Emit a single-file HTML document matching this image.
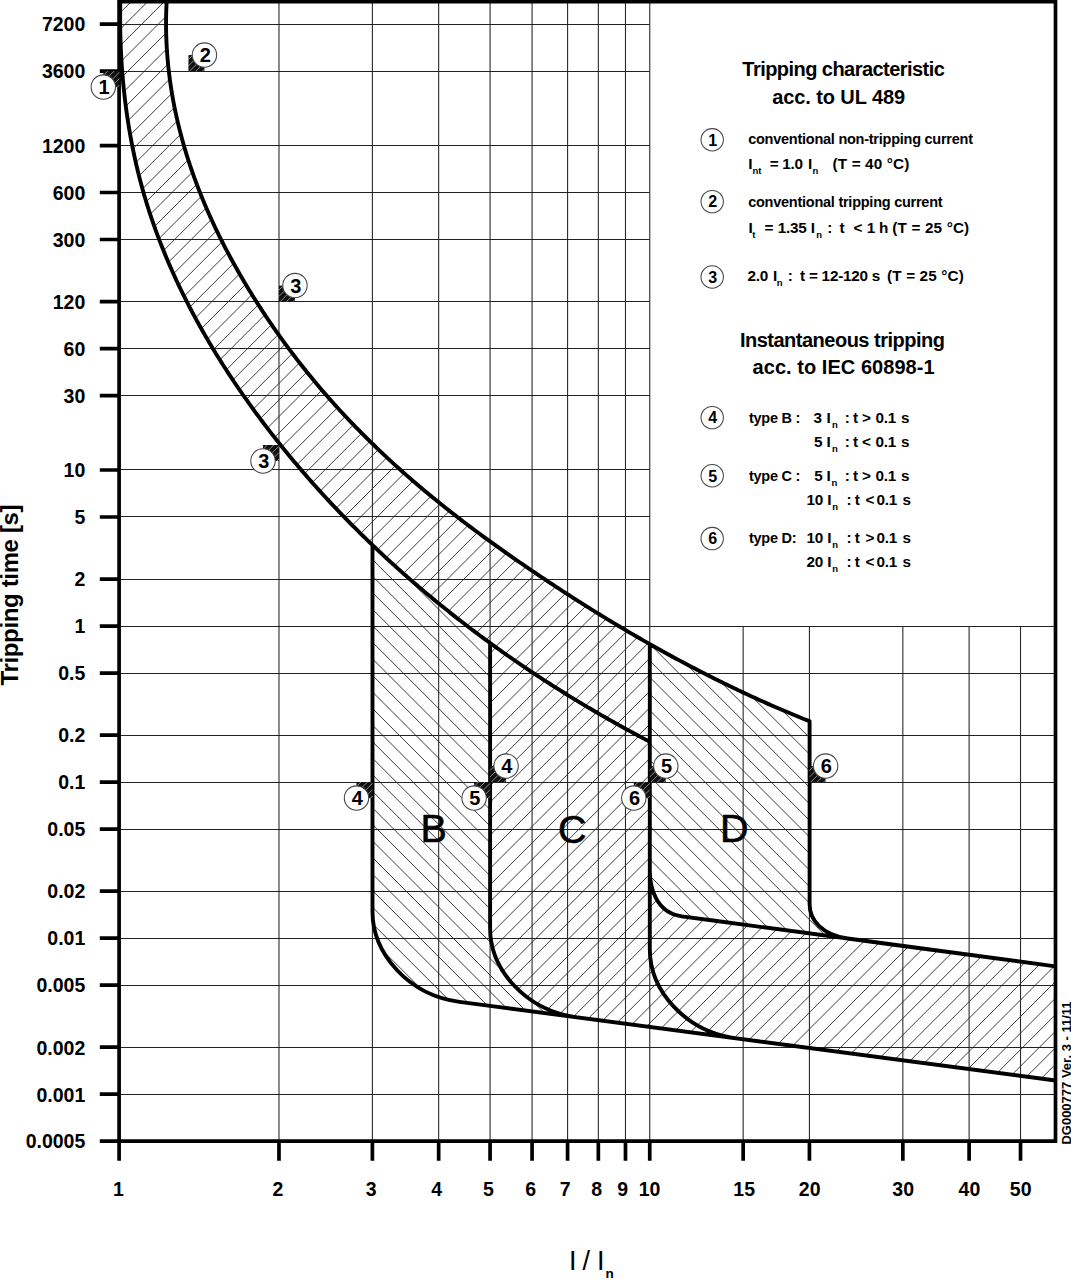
<!DOCTYPE html><html><head><meta charset="utf-8"><title>Tripping characteristic</title><style>html,body{margin:0;padding:0;background:#fff;}svg{display:block;}</style></head><body><svg width="1071" height="1280" viewBox="0 0 1071 1280">
<defs>
<clipPath id="cT"><path d="M117.3,-10L167.16,-6.29L166.97,-3.65L166.8,-1.02L166.65,1.61L166.51,4.23L166.4,6.86L166.3,9.48L166.22,12.1L166.15,14.72L166.1,17.33L166.07,19.95L166.06,22.56L166.06,25.17L166.08,27.78L166.11,30.38L166.17,32.98L166.23,35.58L166.32,38.18L166.42,40.77L166.54,43.37L166.67,45.96L166.82,48.54L166.99,51.13L167.17,53.71L167.37,56.29L167.58,58.87L167.81,61.44L168.05,64.01L168.31,66.58L168.59,69.15L168.88,71.71L169.19,74.27L169.51,76.83L169.85,79.39L170.2,81.94L170.56,84.49L170.95,87.03L171.34,89.58L171.75,92.12L172.18,94.66L172.62,97.19L173.07,99.72L173.54,102.25L174.03,104.77L174.52,107.3L175.04,109.82L175.56,112.33L176.1,114.84L176.66,117.35L177.22,119.86L177.8,122.36L178.4,124.86L179.01,127.36L179.63,129.85L180.27,132.34L180.92,134.82L181.58,137.31L182.25,139.78L182.94,142.26L183.65,144.73L184.36,147.2L185.09,149.66L185.83,152.13L186.58,154.58L187.35,157.04L188.13,159.49L188.92,161.93L189.72,164.38L190.54,166.81L191.37,169.25L192.21,171.68L193.06,174.11L193.92,176.53L194.8,178.95L195.69,181.37L196.59,183.78L197.5,186.19L198.42,188.59L199.36,190.99L200.31,193.38L201.26,195.78L202.23,198.16L203.21,200.55L204.2,202.93L205.21,205.3L206.22,207.67L207.24,210.04L208.28,212.4L209.33,214.76L210.38,217.11L211.45,219.46L212.53,221.81L213.61,224.15L214.71,226.48L215.82,228.82L216.94,231.15L218.07,233.47L219.2,235.79L220.35,238.1L221.51,240.41L222.67,242.72L223.85,245.02L225.04,247.32L226.23,249.61L227.43,251.9L228.65,254.19L229.87,256.47L231.1,258.74L232.34,261.02L233.59,263.28L234.84,265.55L236.11,267.8L237.38,270.06L238.66,272.31L239.95,274.55L241.25,276.79L242.56,279.03L243.87,281.26L245.2,283.48L246.53,285.71L247.86,287.92L249.21,290.14L250.56,292.34L251.92,294.55L253.29,296.75L254.67,298.94L256.05,301.13L257.44,303.31L258.84,305.49L260.24,307.67L261.65,309.84L263.07,312L264.5,314.16L265.94,316.32L267.38,318.47L268.83,320.61L270.28,322.76L271.75,324.89L273.22,327.02L274.7,329.15L276.18,331.27L277.67,333.38L279.17,335.49L280.68,337.6L282.19,339.7L283.71,341.79L285.24,343.88L286.77,345.96L288.31,348.04L289.86,350.11L291.42,352.18L292.98,354.24L294.54,356.3L296.12,358.35L297.7,360.4L299.29,362.44L300.88,364.47L302.48,366.5L304.09,368.53L305.71,370.54L307.33,372.56L308.95,374.56L310.59,376.56L312.23,378.56L313.87,380.55L315.53,382.53L317.18,384.51L318.85,386.48L320.52,388.45L322.2,390.41L323.88,392.36L325.57,394.31L327.27,396.25L328.97,398.19L330.68,400.12L332.4,402.05L334.12,403.97L335.84,405.88L337.58,407.78L339.31,409.69L341.06,411.58L342.81,413.47L344.56,415.35L346.33,417.23L348.09,419.1L349.87,420.97L351.65,422.83L353.43,424.69L355.22,426.54L357.02,428.38L358.82,430.22L360.62,432.05L362.44,433.88L364.25,435.7L366.08,437.51L367.91,439.32L369.74,441.13L371.58,442.93L373.42,444.72L375.27,446.51L377.13,448.29L378.99,450.07L380.86,451.84L382.73,453.61L384.6,455.37L386.48,457.13L388.37,458.88L390.26,460.62L392.15,462.36L394.05,464.1L395.96,465.83L397.87,467.55L399.79,469.27L401.71,470.99L403.63,472.69L405.56,474.4L407.49,476.1L409.43,477.79L411.38,479.48L413.32,481.16L415.28,482.84L417.23,484.51L419.2,486.18L421.16,487.85L423.13,489.51L425.11,491.16L427.09,492.81L429.07,494.45L431.06,496.09L433.05,497.72L435.05,499.35L437.05,500.98L439.05,502.6L441.06,504.21L443.08,505.82L445.09,507.43L447.11,509.03L449.14,510.63L451.17,512.22L453.2,513.81L455.24,515.39L457.28,516.97L459.32,518.54L461.37,520.11L463.42,521.68L465.48,523.24L467.53,524.8L469.6,526.35L471.66,527.9L473.73,529.44L475.8,530.98L477.88,532.52L479.95,534.05L482.04,535.58L484.12,537.11L486.21,538.63L488.3,540.15L490.39,541.66L492.49,543.18L494.58,544.68L496.69,546.19L498.79,547.69L500.9,549.18L503.01,550.68L505.12,552.17L507.23,553.65L509.35,555.14L511.47,556.62L513.59,558.09L515.72,559.57L517.84,561.04L519.97,562.51L522.1,563.97L524.23,565.43L526.37,566.89L528.51,568.35L530.65,569.8L532.79,571.25L534.93,572.7L537.07,574.15L539.22,575.59L541.37,577.03L543.52,578.46L545.67,579.9L547.82,581.33L549.98,582.76L552.14,584.18L554.3,585.6L556.46,587.02L558.62,588.44L560.79,589.85L562.95,591.26L565.12,592.67L567.29,594.08L569.47,595.48L571.64,596.87L573.82,598.27L576,599.66L578.18,601.05L580.36,602.44L582.55,603.82L584.73,605.2L586.92,606.57L589.11,607.94L591.3,609.31L593.5,610.68L595.7,612.04L597.89,613.4L600.09,614.76L602.3,616.11L604.5,617.46L606.71,618.8L608.92,620.14L611.13,621.48L613.34,622.82L615.55,624.15L617.77,625.48L619.99,626.8L622.21,628.12L624.43,629.44L626.66,630.75L628.88,632.06L631.11,633.37L633.34,634.67L635.58,635.97L637.81,637.26L640.05,638.55L642.29,639.84L644.53,641.12L646.77,642.4L649.02,643.68L649.8,643.68L649.8,741.35L649.03,741.35L646.9,740.24L644.77,739.11L642.64,737.99L640.52,736.86L638.39,735.73L636.27,734.59L634.15,733.45L632.03,732.3L629.91,731.15L627.8,730L625.68,728.84L623.57,727.68L621.46,726.52L619.35,725.35L617.25,724.17L615.14,723L613.04,721.81L610.94,720.63L608.84,719.44L606.74,718.25L604.65,717.05L602.55,715.85L600.46,714.64L598.37,713.43L596.29,712.22L594.2,711L592.12,709.78L590.04,708.55L587.96,707.32L585.88,706.09L583.81,704.85L581.74,703.61L579.66,702.37L577.6,701.12L575.53,699.86L573.47,698.6L571.4,697.34L569.34,696.08L567.29,694.81L565.23,693.53L563.18,692.26L561.13,690.97L559.08,689.69L557.03,688.4L554.99,687.11L552.95,685.81L550.91,684.51L548.87,683.2L546.84,681.89L544.8,680.58L542.77,679.26L540.75,677.94L538.72,676.61L536.7,675.28L534.68,673.95L532.66,672.61L530.65,671.27L528.63,669.93L526.62,668.58L524.62,667.22L522.61,665.86L520.61,664.5L518.61,663.14L516.61,661.77L514.62,660.39L512.62,659.02L510.64,657.64L508.65,656.25L506.66,654.86L504.68,653.47L502.7,652.07L500.73,650.67L498.75,649.26L496.78,647.86L494.82,646.44L492.85,645.03L490.89,643.6L488.93,642.18L486.97,640.75L485.02,639.32L483.07,637.88L481.12,636.44L479.17,634.99L477.23,633.55L475.29,632.09L473.36,630.64L471.42,629.18L469.49,627.71L467.56,626.24L465.64,624.77L463.72,623.29L461.8,621.81L459.88,620.33L457.97,618.84L456.06,617.35L454.16,615.85L452.25,614.35L450.35,612.85L448.45,611.34L446.56,609.83L444.67,608.31L442.78,606.79L440.9,605.27L439.02,603.74L437.14,602.21L435.26,600.67L433.39,599.13L431.52,597.59L429.66,596.04L427.8,594.49L425.94,592.93L424.08,591.37L422.23,589.81L420.38,588.24L418.54,586.67L416.7,585.1L414.86,583.52L413.02,581.93L411.19,580.35L409.36,578.76L407.54,577.16L405.72,575.56L403.9,573.96L402.09,572.35L400.28,570.74L398.47,569.13L396.67,567.51L394.87,565.89L393.07,564.26L391.28,562.63L389.49,561L387.7,559.36L385.92,557.72L384.14,556.07L382.37,554.42L380.6,552.77L378.83,551.11L377.07,549.45L375.31,547.78L373.55,546.11L371.8,544.44L370.05,542.76L368.31,541.08L366.57,539.4L364.83,537.71L363.1,536.01L361.37,534.32L359.64,532.62L357.92,530.91L356.2,529.2L354.49,527.49L352.78,525.78L351.07,524.06L349.37,522.33L347.67,520.6L345.98,518.87L344.29,517.14L342.6,515.4L340.92,513.65L339.24,511.9L337.57,510.15L335.9,508.4L334.24,506.64L332.57,504.88L330.92,503.11L329.26,501.34L327.61,499.56L325.97,497.78L324.33,496L322.69,494.22L321.06,492.43L319.43,490.63L317.81,488.83L316.19,487.03L314.57,485.23L312.96,483.42L311.36,481.6L309.76,479.78L308.16,477.96L306.56,476.14L304.97,474.31L303.39,472.48L301.81,470.64L300.23,468.8L298.66,466.95L297.1,465.11L295.53,463.25L293.97,461.4L292.42,459.54L290.87,457.67L289.33,455.8L287.79,453.93L286.25,452.06L284.72,450.18L283.19,448.29L281.67,446.41L280.16,444.52L278.64,442.62L277.14,440.72L275.63,438.82L274.13,436.91L272.64,435L271.15,433.09L269.67,431.17L268.19,429.25L266.71,427.32L265.24,425.39L263.78,423.46L262.32,421.52L260.86,419.58L259.41,417.64L257.96,415.69L256.52,413.73L255.09,411.78L253.66,409.82L252.23,407.85L250.81,405.88L249.39,403.91L247.98,401.94L246.58,399.96L245.18,397.97L243.78,395.99L242.39,393.99L241.01,392L239.63,390L238.26,388L236.89,385.99L235.53,383.98L234.17,381.97L232.82,379.95L231.48,377.93L230.14,375.91L228.81,373.88L227.48,371.85L226.16,369.81L224.84,367.77L223.54,365.73L222.23,363.68L220.94,361.63L219.65,359.57L218.36,357.52L217.09,355.45L215.81,353.39L214.55,351.32L213.29,349.25L212.04,347.17L210.8,345.09L209.56,343.01L208.33,340.92L207.1,338.83L205.88,336.73L204.67,334.64L203.47,332.53L202.27,330.43L201.08,328.32L199.9,326.21L198.72,324.09L197.55,321.97L196.39,319.85L195.23,317.72L194.09,315.59L192.95,313.46L191.81,311.32L190.69,309.18L189.57,307.03L188.46,304.89L187.36,302.73L186.26,300.58L185.17,298.42L184.09,296.26L183.02,294.09L181.96,291.92L180.9,289.75L179.85,287.57L178.81,285.39L177.78,283.21L176.76,281.02L175.74,278.83L174.73,276.64L173.73,274.44L172.74,272.24L171.76,270.04L170.78,267.83L169.82,265.62L168.86,263.41L167.91,261.19L166.97,258.97L166.04,256.74L165.12,254.52L164.2,252.28L163.3,250.05L162.4,247.81L161.51,245.57L160.63,243.33L159.76,241.08L158.9,238.83L158.05,236.57L157.21,234.31L156.37,232.05L155.55,229.79L154.73,227.52L153.93,225.25L153.13,222.97L152.34,220.7L151.56,218.41L150.8,216.13L150.04,213.84L149.29,211.55L148.55,209.26L147.82,206.96L147.1,204.66L146.39,202.35L145.69,200.05L145,197.74L144.32,195.42L143.65,193.1L142.99,190.78L142.34,188.46L141.7,186.13L141.07,183.8L140.45,181.47L139.84,179.14L139.24,176.8L138.65,174.45L138.07,172.11L137.5,169.76L136.94,167.41L136.39,165.06L135.85,162.7L135.32,160.34L134.79,157.98L134.28,155.62L133.78,153.25L133.29,150.88L132.8,148.51L132.33,146.14L131.87,143.76L131.41,141.39L130.97,139.01L130.53,136.62L130.1,134.24L129.69,131.85L129.28,129.46L128.88,127.07L128.49,124.68L128.11,122.28L127.74,119.89L127.38,117.49L127.03,115.09L126.69,112.68L126.35,110.28L126.03,107.87L125.71,105.47L125.41,103.06L125.11,100.65L124.82,98.24L124.54,95.82L124.27,93.41L124.01,90.99L123.75,88.57L123.51,86.15L123.28,83.73L123.05,81.31L122.83,78.89L122.62,76.47L122.42,74.04L122.23,71.62L122.05,69.19L121.87,66.76L121.71,64.33L121.55,61.9L121.4,59.47L121.26,57.04L121.13,54.61L121,52.18L120.89,49.75L120.78,47.31L120.68,44.88L120.59,42.44L120.51,40.01L120.44,37.57L120.37,35.14L120.31,32.7L120.26,30.27L120.22,27.83L120.19,25.39L120.17,22.96L120.15,20.52L120.14,18.08L120.14,15.65L120.15,13.21L120.16,10.77L120.19,8.34L120.22,5.9L120.26,3.46L120.3,1.03L120.36,-1.41L120.42,-3.84L120.49,-6.28L117.3,-10Z"/></clipPath>
<clipPath id="cB"><path d="M372.5,544.44L372.5,911.75L372.53,913.85L372.62,915.95L372.77,918.05L372.98,920.15L373.25,922.25L373.58,924.34L373.96,926.42L374.41,928.5L374.91,930.58L375.46,932.64L376.07,934.7L376.74,936.74L377.46,938.77L378.23,940.8L379.06,942.8L379.93,944.79L380.87,946.77L381.85,948.73L382.88,950.67L383.97,952.6L385.1,954.5L386.28,956.39L387.51,958.25L388.79,960.08L390.12,961.9L391.49,963.69L392.91,965.45L394.38,967.19L395.89,968.9L397.45,970.57L399.05,972.22L400.69,973.84L402.37,975.42L404.1,976.97L405.87,978.49L407.69,979.97L409.54,981.42L411.43,982.82L413.36,984.19L415.33,985.52L417.34,986.81L419.39,988.05L421.47,989.26L423.6,990.42L425.75,991.53L427.95,992.6L430.17,993.62L432.44,994.59L434.73,995.52L437.06,996.39L439.42,997.22L441.82,997.99L444.24,998.7L446.7,999.37L449.19,999.97L451.7,1000.52L454.25,1001.02L456.83,1001.45L459.43,1001.83L490,1005.86L605,1021.03L605,1021.03L577.4,1017.39L574.75,1017.01L572.13,1016.57L569.55,1016.07L566.99,1015.52L564.47,1014.91L561.98,1014.25L559.52,1013.53L557.1,1012.76L554.71,1011.94L552.35,1011.07L550.03,1010.15L547.75,1009.18L545.5,1008.17L543.29,1007.11L541.12,1006L538.98,1004.85L536.89,1003.66L534.83,1002.42L532.81,1001.14L530.83,999.83L528.89,998.47L526.99,997.08L525.13,995.65L523.32,994.18L521.55,992.68L519.82,991.14L518.13,989.57L516.49,987.97L514.89,986.34L513.33,984.68L511.83,982.99L510.36,981.27L508.95,979.53L507.58,977.76L506.26,975.97L504.98,974.15L503.76,972.31L502.58,970.44L501.46,968.56L500.38,966.66L499.35,964.74L498.38,962.8L497.46,960.84L496.58,958.87L495.76,956.89L495,954.89L494.29,952.88L493.63,950.85L493.02,948.82L492.48,946.78L491.98,944.73L491.55,942.67L491.16,940.61L490.84,938.54L490.58,936.47L490.37,934.39L490.22,932.31L490.13,930.23L490.1,928.15L490.1,643.6L488.93,642.18L486.97,640.75L485.02,639.32L483.07,637.88L481.12,636.44L479.17,634.99L477.23,633.55L475.29,632.09L473.36,630.64L471.42,629.18L469.49,627.71L467.56,626.24L465.64,624.77L463.72,623.29L461.8,621.81L459.88,620.33L457.97,618.84L456.06,617.35L454.16,615.85L452.25,614.35L450.35,612.85L448.45,611.34L446.56,609.83L444.67,608.31L442.78,606.79L440.9,605.27L439.02,603.74L437.14,602.21L435.26,600.67L433.39,599.13L431.52,597.59L429.66,596.04L427.8,594.49L425.94,592.93L424.08,591.37L422.23,589.81L420.38,588.24L418.54,586.67L416.7,585.1L414.86,583.52L413.02,581.93L411.19,580.35L409.36,578.76L407.54,577.16L405.72,575.56L403.9,573.96L402.09,572.35L400.28,570.74L398.47,569.13L396.67,567.51L394.87,565.89L393.07,564.26L391.28,562.63L389.49,561L387.7,559.36L385.92,557.72L384.14,556.07L382.37,554.42L380.6,552.77L378.83,551.11L377.07,549.45L375.31,547.78L373.55,546.11Z"/></clipPath>
<clipPath id="cC"><path d="M490.1,643.6L490.1,928.15L490.13,930.23L490.22,932.31L490.37,934.39L490.58,936.47L490.84,938.54L491.16,940.61L491.55,942.67L491.98,944.73L492.48,946.78L493.02,948.82L493.63,950.85L494.29,952.88L495,954.89L495.76,956.89L496.58,958.87L497.46,960.84L498.38,962.8L499.35,964.74L500.38,966.66L501.46,968.56L502.58,970.44L503.76,972.31L504.98,974.15L506.26,975.97L507.58,977.76L508.95,979.53L510.36,981.27L511.83,982.99L513.33,984.68L514.89,986.34L516.49,987.97L518.13,989.57L519.82,991.14L521.55,992.68L523.32,994.18L525.13,995.65L526.99,997.08L528.89,998.47L530.83,999.83L532.81,1001.14L534.83,1002.42L536.89,1003.66L538.98,1004.85L541.12,1006L543.29,1007.11L545.5,1008.17L547.75,1009.18L550.03,1010.15L552.35,1011.07L554.71,1011.94L557.1,1012.76L559.52,1013.53L561.98,1014.25L564.47,1014.91L566.99,1015.52L569.55,1016.07L572.13,1016.57L574.75,1017.01L577.4,1017.39L605,1021.03L1058.5,1080.85L1058.5,966.76L715,920.8L715,920.8L681.55,916.33L680.24,916.13L678.96,915.89L677.71,915.62L676.5,915.31L675.33,914.96L674.18,914.57L673.08,914.16L672,913.71L670.95,913.23L669.94,912.71L668.96,912.17L668,911.6L667.08,911L666.19,910.37L665.33,909.72L664.5,909.04L663.69,908.34L662.91,907.62L662.16,906.87L661.44,906.1L660.75,905.31L660.08,904.51L659.43,903.68L658.82,902.84L658.22,901.98L657.66,901.11L657.11,900.22L656.59,899.32L656.1,898.41L655.62,897.49L655.17,896.56L654.74,895.61L654.33,894.66L653.94,893.71L653.58,892.74L653.23,891.78L652.9,890.8L652.59,889.83L652.3,888.85L652.03,887.87L651.78,886.9L651.55,885.92L651.33,884.94L651.13,883.97L650.94,883L650.77,882.04L650.62,881.08L650.48,880.13L650.35,879.19L650.24,878.25L650.14,877.33L650.06,876.42L649.99,875.52L649.93,874.63L649.88,873.76L649.85,872.9L649.82,872.05L649.8,871.23L649.8,870.42L649.8,741.35L649.03,741.35L646.9,740.24L644.77,739.11L642.64,737.99L640.52,736.86L638.39,735.73L636.27,734.59L634.15,733.45L632.03,732.3L629.91,731.15L627.8,730L625.68,728.84L623.57,727.68L621.46,726.52L619.35,725.35L617.25,724.17L615.14,723L613.04,721.81L610.94,720.63L608.84,719.44L606.74,718.25L604.65,717.05L602.55,715.85L600.46,714.64L598.37,713.43L596.29,712.22L594.2,711L592.12,709.78L590.04,708.55L587.96,707.32L585.88,706.09L583.81,704.85L581.74,703.61L579.66,702.37L577.6,701.12L575.53,699.86L573.47,698.6L571.4,697.34L569.34,696.08L567.29,694.81L565.23,693.53L563.18,692.26L561.13,690.97L559.08,689.69L557.03,688.4L554.99,687.11L552.95,685.81L550.91,684.51L548.87,683.2L546.84,681.89L544.8,680.58L542.77,679.26L540.75,677.94L538.72,676.61L536.7,675.28L534.68,673.95L532.66,672.61L530.65,671.27L528.63,669.93L526.62,668.58L524.62,667.22L522.61,665.86L520.61,664.5L518.61,663.14L516.61,661.77L514.62,660.39L512.62,659.02L510.64,657.64L508.65,656.25L506.66,654.86L504.68,653.47L502.7,652.07L500.73,650.67L498.75,649.26L496.78,647.86L494.82,646.44L492.85,645.03L490.89,643.6Z"/></clipPath>
<clipPath id="cD"><path d="M649.8,643.68L651.26,644.95L653.51,646.22L655.77,647.48L658.02,648.74L660.28,650L662.53,651.25L664.79,652.5L667.05,653.74L669.32,654.98L671.59,656.22L673.85,657.45L676.12,658.68L678.4,659.9L680.67,661.12L682.95,662.33L685.23,663.55L687.51,664.75L689.79,665.95L692.08,667.15L694.37,668.35L696.66,669.54L698.95,670.72L701.24,671.9L703.54,673.08L705.84,674.25L708.14,675.42L710.44,676.58L712.75,677.74L715.05,678.89L717.36,680.04L719.67,681.19L721.99,682.33L724.3,683.46L726.62,684.6L728.94,685.72L731.27,686.84L733.59,687.96L735.92,689.07L738.25,690.18L740.58,691.29L742.91,692.38L745.25,693.48L747.59,694.57L749.93,695.65L752.27,696.73L754.62,697.8L756.97,698.87L759.32,699.94L761.67,701L764.02,702.05L766.38,703.1L768.74,704.15L771.1,705.19L773.46,706.22L775.83,707.25L778.2,708.28L780.57,709.3L782.94,710.31L785.32,711.32L787.69,712.32L790.07,713.32L792.45,714.32L794.84,715.3L797.23,716.29L799.61,717.27L802.01,718.24L804.4,719.21L806.8,720.17L809.19,721.12L809.6,721.12L809.6,904.25L809.61,905.04L809.64,905.83L809.7,906.62L809.77,907.41L809.87,908.2L809.98,908.98L810.12,909.76L810.28,910.54L810.47,911.32L810.67,912.09L810.9,912.85L811.14,913.62L811.41,914.38L811.7,915.13L812.01,915.88L812.35,916.63L812.7,917.36L813.08,918.09L813.48,918.82L813.9,919.54L814.34,920.25L814.81,920.95L815.29,921.65L815.8,922.33L816.33,923.01L816.89,923.68L817.46,924.34L818.06,924.99L818.67,925.63L819.31,926.26L819.98,926.88L820.66,927.49L821.37,928.09L822.1,928.68L822.85,929.25L823.62,929.81L824.42,930.36L825.24,930.9L826.08,931.42L826.94,931.93L827.82,932.42L828.73,932.9L829.66,933.37L830.61,933.82L831.59,934.25L832.58,934.67L833.6,935.08L834.64,935.46L835.71,935.84L836.8,936.19L837.91,936.52L839.04,936.84L840.19,937.14L841.37,937.42L842.57,937.69L843.79,937.93L845.04,938.16L846.31,938.36L847.6,938.54L890,944.22L890,944.22L715,920.8L715,920.8L681.55,916.33L680.24,916.13L678.96,915.89L677.71,915.62L676.5,915.31L675.33,914.96L674.18,914.57L673.08,914.16L672,913.71L670.95,913.23L669.94,912.71L668.96,912.17L668,911.6L667.08,911L666.19,910.37L665.33,909.72L664.5,909.04L663.69,908.34L662.91,907.62L662.16,906.87L661.44,906.1L660.75,905.31L660.08,904.51L659.43,903.68L658.82,902.84L658.22,901.98L657.66,901.11L657.11,900.22L656.59,899.32L656.1,898.41L655.62,897.49L655.17,896.56L654.74,895.61L654.33,894.66L653.94,893.71L653.58,892.74L653.23,891.78L652.9,890.8L652.59,889.83L652.3,888.85L652.03,887.87L651.78,886.9L651.55,885.92L651.33,884.94L651.13,883.97L650.94,883L650.77,882.04L650.62,881.08L650.48,880.13L650.35,879.19L650.24,878.25L650.14,877.33L650.06,876.42L649.99,875.52L649.93,874.63L649.88,873.76L649.85,872.9L649.82,872.05L649.8,871.23L649.8,870.42Z"/></clipPath>
<clipPath id="plot"><rect x="119.3" y="0" width="936.2" height="1141.1757308233641"/></clipPath>
</defs>
<rect width="1071" height="1280" fill="#fff"/>
<g clip-path="url(#plot)"><g stroke="#3c3c3c" stroke-width="1.0" fill="none">
<path clip-path="url(#cT)" d="M109.7,-10L-660.3,760M126.25,-10L-643.75,760M142.8,-10L-627.2,760M159.35,-10L-610.65,760M175.9,-10L-594.1,760M192.45,-10L-577.55,760M209,-10L-561,760M225.55,-10L-544.45,760M242.1,-10L-527.9,760M258.65,-10L-511.35,760M275.2,-10L-494.8,760M291.75,-10L-478.25,760M308.3,-10L-461.7,760M324.85,-10L-445.15,760M341.4,-10L-428.6,760M357.95,-10L-412.05,760M374.5,-10L-395.5,760M391.05,-10L-378.95,760M407.6,-10L-362.4,760M424.15,-10L-345.85,760M440.7,-10L-329.3,760M457.25,-10L-312.75,760M473.8,-10L-296.2,760M490.35,-10L-279.65,760M506.9,-10L-263.1,760M523.45,-10L-246.55,760M540,-10L-230,760M556.55,-10L-213.45,760M573.1,-10L-196.9,760M589.65,-10L-180.35,760M606.2,-10L-163.8,760M622.75,-10L-147.25,760M639.3,-10L-130.7,760M655.85,-10L-114.15,760M672.4,-10L-97.6,760M688.95,-10L-81.05,760M705.5,-10L-64.5,760M722.05,-10L-47.95,760M738.6,-10L-31.4,760M755.15,-10L-14.85,760M771.7,-10L1.7,760M788.25,-10L18.25,760M804.8,-10L34.8,760M821.35,-10L51.35,760M837.9,-10L67.9,760M854.45,-10L84.45,760M871,-10L101,760M887.55,-10L117.55,760M904.1,-10L134.1,760M920.65,-10L150.65,760M937.2,-10L167.2,760M953.75,-10L183.75,760M970.3,-10L200.3,760M986.85,-10L216.85,760M1003.4,-10L233.4,760M1019.95,-10L249.95,760M1036.5,-10L266.5,760M1053.05,-10L283.05,760M1069.6,-10L299.6,760M1086.15,-10L316.15,760M1102.7,-10L332.7,760M1119.25,-10L349.25,760M1135.8,-10L365.8,760M1152.35,-10L382.35,760M1168.9,-10L398.9,760M1185.45,-10L415.45,760M1202,-10L432,760M1218.55,-10L448.55,760M1235.1,-10L465.1,760M1251.65,-10L481.65,760M1268.2,-10L498.2,760M1284.75,-10L514.75,760M1301.3,-10L531.3,760M1317.85,-10L547.85,760M1334.4,-10L564.4,760M1350.95,-10L580.95,760M1367.5,-10L597.5,760M1384.05,-10L614.05,760M1400.6,-10L630.6,760M1417.15,-10L647.15,760M1433.7,-10L663.7,760"/>
<path clip-path="url(#cB)" d="M-153.6,530L346.4,1030M-137.05,530L362.95,1030M-120.5,530L379.5,1030M-103.95,530L396.05,1030M-87.4,530L412.6,1030M-70.85,530L429.15,1030M-54.3,530L445.7,1030M-37.75,530L462.25,1030M-21.2,530L478.8,1030M-4.65,530L495.35,1030M11.9,530L511.9,1030M28.45,530L528.45,1030M45,530L545,1030M61.55,530L561.55,1030M78.1,530L578.1,1030M94.65,530L594.65,1030M111.2,530L611.2,1030M127.75,530L627.75,1030M144.3,530L644.3,1030M160.85,530L660.85,1030M177.4,530L677.4,1030M193.95,530L693.95,1030M210.5,530L710.5,1030M227.05,530L727.05,1030M243.6,530L743.6,1030M260.15,530L760.15,1030M276.7,530L776.7,1030M293.25,530L793.25,1030M309.8,530L809.8,1030M326.35,530L826.35,1030M342.9,530L842.9,1030M359.45,530L859.45,1030M376,530L876,1030M392.55,530L892.55,1030M409.1,530L909.1,1030M425.65,530L925.65,1030M442.2,530L942.2,1030M458.75,530L958.75,1030M475.3,530L975.3,1030M491.85,530L991.85,1030M508.4,530L1008.4,1030M524.95,530L1024.95,1030M541.5,530L1041.5,1030M558.05,530L1058.05,1030M574.6,530L1074.6,1030M591.15,530L1091.15,1030M607.7,530L1107.7,1030M624.25,530L1124.25,1030"/>
<path clip-path="url(#cC)" d="M463.7,630L-6.3,1100M480.25,630L10.25,1100M496.8,630L26.8,1100M513.35,630L43.35,1100M529.9,630L59.9,1100M546.45,630L76.45,1100M563,630L93,1100M579.55,630L109.55,1100M596.1,630L126.1,1100M612.65,630L142.65,1100M629.2,630L159.2,1100M645.75,630L175.75,1100M662.3,630L192.3,1100M678.85,630L208.85,1100M695.4,630L225.4,1100M711.95,630L241.95,1100M728.5,630L258.5,1100M745.05,630L275.05,1100M761.6,630L291.6,1100M778.15,630L308.15,1100M794.7,630L324.7,1100M811.25,630L341.25,1100M827.8,630L357.8,1100M844.35,630L374.35,1100M860.9,630L390.9,1100M877.45,630L407.45,1100M894,630L424,1100M910.55,630L440.55,1100M927.1,630L457.1,1100M943.65,630L473.65,1100M960.2,630L490.2,1100M976.75,630L506.75,1100M993.3,630L523.3,1100M1009.85,630L539.85,1100M1026.4,630L556.4,1100M1042.95,630L572.95,1100M1059.5,630L589.5,1100M1076.05,630L606.05,1100M1092.6,630L622.6,1100M1109.15,630L639.15,1100M1125.7,630L655.7,1100M1142.25,630L672.25,1100M1158.8,630L688.8,1100M1175.35,630L705.35,1100M1191.9,630L721.9,1100M1208.45,630L738.45,1100M1225,630L755,1100M1241.55,630L771.55,1100M1258.1,630L788.1,1100M1274.65,630L804.65,1100M1291.2,630L821.2,1100M1307.75,630L837.75,1100M1324.3,630L854.3,1100M1340.85,630L870.85,1100M1357.4,630L887.4,1100M1373.95,630L903.95,1100M1390.5,630L920.5,1100M1407.05,630L937.05,1100M1423.6,630L953.6,1100M1440.15,630L970.15,1100M1456.7,630L986.7,1100M1473.25,630L1003.25,1100M1489.8,630L1019.8,1100M1506.35,630L1036.35,1100M1522.9,630L1052.9,1100M1539.45,630L1069.45,1100M1556,630L1086,1100"/>
<path clip-path="url(#cD)" d="M304.65,630L634.65,960M321.2,630L651.2,960M337.75,630L667.75,960M354.3,630L684.3,960M370.85,630L700.85,960M387.4,630L717.4,960M403.95,630L733.95,960M420.5,630L750.5,960M437.05,630L767.05,960M453.6,630L783.6,960M470.15,630L800.15,960M486.7,630L816.7,960M503.25,630L833.25,960M519.8,630L849.8,960M536.35,630L866.35,960M552.9,630L882.9,960M569.45,630L899.45,960M586,630L916,960M602.55,630L932.55,960M619.1,630L949.1,960M635.65,630L965.65,960M652.2,630L982.2,960M668.75,630L998.75,960M685.3,630L1015.3,960M701.85,630L1031.85,960M718.4,630L1048.4,960M734.95,630L1064.95,960M751.5,630L1081.5,960M768.05,630L1098.05,960M784.6,630L1114.6,960M801.15,630L1131.15,960M817.7,630L1147.7,960M834.25,630L1164.25,960M850.8,630L1180.8,960M867.35,630L1197.35,960M883.9,630L1213.9,960M900.45,630L1230.45,960"/>
</g></g>
<path stroke="#2a2a2a" stroke-width="1.1" fill="none" d="M278.98,0V1141.18M372.39,0V1141.18M438.66,0V1141.18M490.07,0V1141.18M532.07,0V1141.18M567.58,0V1141.18M598.34,0V1141.18M625.48,0V1141.18M649.75,0V1141.18M743.16,626.05V1141.18M809.43,626.05V1141.18M902.84,626.05V1141.18M969.11,626.05V1141.18M1020.52,626.05V1141.18"/>
<path stroke="#222" stroke-width="1.15" fill="none" d="M119.3,24.5H649.8M119.3,71.5H649.8M119.3,145.5H649.8M119.3,192.5H649.8M119.3,239.5H649.8M119.3,301.5H649.8M119.3,348.5H649.8M119.3,395.5H649.8M119.3,469.5H649.8M119.3,516.5H649.8M119.3,579.5H649.8M119.3,626.5H1055.5M119.3,673.5H1055.5M119.3,735.5H1055.5M119.3,782.5H1055.5M119.3,829.5H1055.5M119.3,891.5H1055.5M119.3,938.5H1055.5M119.3,985.5H1055.5M119.3,1047.5H1055.5M119.3,1094.5H1055.5"/>
<g clip-path="url(#plot)"><path stroke="#000" stroke-width="3.9" fill="none" stroke-linejoin="round" stroke-linecap="butt" d="M167.16,-6.29L166.97,-3.65L166.8,-1.02L166.65,1.61L166.51,4.23L166.4,6.86L166.3,9.48L166.22,12.1L166.15,14.72L166.1,17.33L166.07,19.95L166.06,22.56L166.06,25.17L166.08,27.78L166.11,30.38L166.17,32.98L166.23,35.58L166.32,38.18L166.42,40.77L166.54,43.37L166.67,45.96L166.82,48.54L166.99,51.13L167.17,53.71L167.37,56.29L167.58,58.87L167.81,61.44L168.05,64.01L168.31,66.58L168.59,69.15L168.88,71.71L169.19,74.27L169.51,76.83L169.85,79.39L170.2,81.94L170.56,84.49L170.95,87.03L171.34,89.58L171.75,92.12L172.18,94.66L172.62,97.19L173.07,99.72L173.54,102.25L174.03,104.77L174.52,107.3L175.04,109.82L175.56,112.33L176.1,114.84L176.66,117.35L177.22,119.86L177.8,122.36L178.4,124.86L179.01,127.36L179.63,129.85L180.27,132.34L180.92,134.82L181.58,137.31L182.25,139.78L182.94,142.26L183.65,144.73L184.36,147.2L185.09,149.66L185.83,152.13L186.58,154.58L187.35,157.04L188.13,159.49L188.92,161.93L189.72,164.38L190.54,166.81L191.37,169.25L192.21,171.68L193.06,174.11L193.92,176.53L194.8,178.95L195.69,181.37L196.59,183.78L197.5,186.19L198.42,188.59L199.36,190.99L200.31,193.38L201.26,195.78L202.23,198.16L203.21,200.55L204.2,202.93L205.21,205.3L206.22,207.67L207.24,210.04L208.28,212.4L209.33,214.76L210.38,217.11L211.45,219.46L212.53,221.81L213.61,224.15L214.71,226.48L215.82,228.82L216.94,231.15L218.07,233.47L219.2,235.79L220.35,238.1L221.51,240.41L222.67,242.72L223.85,245.02L225.04,247.32L226.23,249.61L227.43,251.9L228.65,254.19L229.87,256.47L231.1,258.74L232.34,261.02L233.59,263.28L234.84,265.55L236.11,267.8L237.38,270.06L238.66,272.31L239.95,274.55L241.25,276.79L242.56,279.03L243.87,281.26L245.2,283.48L246.53,285.71L247.86,287.92L249.21,290.14L250.56,292.34L251.92,294.55L253.29,296.75L254.67,298.94L256.05,301.13L257.44,303.31L258.84,305.49L260.24,307.67L261.65,309.84L263.07,312L264.5,314.16L265.94,316.32L267.38,318.47L268.83,320.61L270.28,322.76L271.75,324.89L273.22,327.02L274.7,329.15L276.18,331.27L277.67,333.38L279.17,335.49L280.68,337.6L282.19,339.7L283.71,341.79L285.24,343.88L286.77,345.96L288.31,348.04L289.86,350.11L291.42,352.18L292.98,354.24L294.54,356.3L296.12,358.35L297.7,360.4L299.29,362.44L300.88,364.47L302.48,366.5L304.09,368.53L305.71,370.54L307.33,372.56L308.95,374.56L310.59,376.56L312.23,378.56L313.87,380.55L315.53,382.53L317.18,384.51L318.85,386.48L320.52,388.45L322.2,390.41L323.88,392.36L325.57,394.31L327.27,396.25L328.97,398.19L330.68,400.12L332.4,402.05L334.12,403.97L335.84,405.88L337.58,407.78L339.31,409.69L341.06,411.58L342.81,413.47L344.56,415.35L346.33,417.23L348.09,419.1L349.87,420.97L351.65,422.83L353.43,424.69L355.22,426.54L357.02,428.38L358.82,430.22L360.62,432.05L362.44,433.88L364.25,435.7L366.08,437.51L367.91,439.32L369.74,441.13L371.58,442.93L373.42,444.72L375.27,446.51L377.13,448.29L378.99,450.07L380.86,451.84L382.73,453.61L384.6,455.37L386.48,457.13L388.37,458.88L390.26,460.62L392.15,462.36L394.05,464.1L395.96,465.83L397.87,467.55L399.79,469.27L401.71,470.99L403.63,472.69L405.56,474.4L407.49,476.1L409.43,477.79L411.38,479.48L413.32,481.16L415.28,482.84L417.23,484.51L419.2,486.18L421.16,487.85L423.13,489.51L425.11,491.16L427.09,492.81L429.07,494.45L431.06,496.09L433.05,497.72L435.05,499.35L437.05,500.98L439.05,502.6L441.06,504.21L443.08,505.82L445.09,507.43L447.11,509.03L449.14,510.63L451.17,512.22L453.2,513.81L455.24,515.39L457.28,516.97L459.32,518.54L461.37,520.11L463.42,521.68L465.48,523.24L467.53,524.8L469.6,526.35L471.66,527.9L473.73,529.44L475.8,530.98L477.88,532.52L479.95,534.05L482.04,535.58L484.12,537.11L486.21,538.63L488.3,540.15L490.39,541.66L492.49,543.18L494.58,544.68L496.69,546.19L498.79,547.69L500.9,549.18L503.01,550.68L505.12,552.17L507.23,553.65L509.35,555.14L511.47,556.62L513.59,558.09L515.72,559.57L517.84,561.04L519.97,562.51L522.1,563.97L524.23,565.43L526.37,566.89L528.51,568.35L530.65,569.8L532.79,571.25L534.93,572.7L537.07,574.15L539.22,575.59L541.37,577.03L543.52,578.46L545.67,579.9L547.82,581.33L549.98,582.76L552.14,584.18L554.3,585.6L556.46,587.02L558.62,588.44L560.79,589.85L562.95,591.26L565.12,592.67L567.29,594.08L569.47,595.48L571.64,596.87L573.82,598.27L576,599.66L578.18,601.05L580.36,602.44L582.55,603.82L584.73,605.2L586.92,606.57L589.11,607.94L591.3,609.31L593.5,610.68L595.7,612.04L597.89,613.4L600.09,614.76L602.3,616.11L604.5,617.46L606.71,618.8L608.92,620.14L611.13,621.48L613.34,622.82L615.55,624.15L617.77,625.48L619.99,626.8L622.21,628.12L624.43,629.44L626.66,630.75L628.88,632.06L631.11,633.37L633.34,634.67L635.58,635.97L637.81,637.26L640.05,638.55L642.29,639.84L644.53,641.12L646.77,642.4L649.02,643.68L651.26,644.95L653.51,646.22L655.77,647.48L658.02,648.74L660.28,650L662.53,651.25L664.79,652.5L667.05,653.74L669.32,654.98L671.59,656.22L673.85,657.45L676.12,658.68L678.4,659.9L680.67,661.12L682.95,662.33L685.23,663.55L687.51,664.75L689.79,665.95L692.08,667.15L694.37,668.35L696.66,669.54L698.95,670.72L701.24,671.9L703.54,673.08L705.84,674.25L708.14,675.42L710.44,676.58L712.75,677.74L715.05,678.89L717.36,680.04L719.67,681.19L721.99,682.33L724.3,683.46L726.62,684.6L728.94,685.72L731.27,686.84L733.59,687.96L735.92,689.07L738.25,690.18L740.58,691.29L742.91,692.38L745.25,693.48L747.59,694.57L749.93,695.65L752.27,696.73L754.62,697.8L756.97,698.87L759.32,699.94L761.67,701L764.02,702.05L766.38,703.1L768.74,704.15L771.1,705.19L773.46,706.22L775.83,707.25L778.2,708.28L780.57,709.3L782.94,710.31L785.32,711.32L787.69,712.32L790.07,713.32L792.45,714.32L794.84,715.3L797.23,716.29L799.61,717.27L802.01,718.24L804.4,719.21L806.8,720.17L809.19,721.12L809.6,721.12L809.6,904.25C809.6,919.82 821.98,935.12 847.6,938.54L890,944.22L1055.5,966.36M120.49,-6.28L120.42,-3.84L120.36,-1.41L120.3,1.03L120.26,3.46L120.22,5.9L120.19,8.34L120.16,10.77L120.15,13.21L120.14,15.65L120.14,18.08L120.15,20.52L120.17,22.96L120.19,25.39L120.22,27.83L120.26,30.27L120.31,32.7L120.37,35.14L120.44,37.57L120.51,40.01L120.59,42.44L120.68,44.88L120.78,47.31L120.89,49.75L121,52.18L121.13,54.61L121.26,57.04L121.4,59.47L121.55,61.9L121.71,64.33L121.87,66.76L122.05,69.19L122.23,71.62L122.42,74.04L122.62,76.47L122.83,78.89L123.05,81.31L123.28,83.73L123.51,86.15L123.75,88.57L124.01,90.99L124.27,93.41L124.54,95.82L124.82,98.24L125.11,100.65L125.41,103.06L125.71,105.47L126.03,107.87L126.35,110.28L126.69,112.68L127.03,115.09L127.38,117.49L127.74,119.89L128.11,122.28L128.49,124.68L128.88,127.07L129.28,129.46L129.69,131.85L130.1,134.24L130.53,136.62L130.97,139.01L131.41,141.39L131.87,143.76L132.33,146.14L132.8,148.51L133.29,150.88L133.78,153.25L134.28,155.62L134.79,157.98L135.32,160.34L135.85,162.7L136.39,165.06L136.94,167.41L137.5,169.76L138.07,172.11L138.65,174.45L139.24,176.8L139.84,179.14L140.45,181.47L141.07,183.8L141.7,186.13L142.34,188.46L142.99,190.78L143.65,193.1L144.32,195.42L145,197.74L145.69,200.05L146.39,202.35L147.1,204.66L147.82,206.96L148.55,209.26L149.29,211.55L150.04,213.84L150.8,216.13L151.56,218.41L152.34,220.7L153.13,222.97L153.93,225.25L154.73,227.52L155.55,229.79L156.37,232.05L157.21,234.31L158.05,236.57L158.9,238.83L159.76,241.08L160.63,243.33L161.51,245.57L162.4,247.81L163.3,250.05L164.2,252.28L165.12,254.52L166.04,256.74L166.97,258.97L167.91,261.19L168.86,263.41L169.82,265.62L170.78,267.83L171.76,270.04L172.74,272.24L173.73,274.44L174.73,276.64L175.74,278.83L176.76,281.02L177.78,283.21L178.81,285.39L179.85,287.57L180.9,289.75L181.96,291.92L183.02,294.09L184.09,296.26L185.17,298.42L186.26,300.58L187.36,302.73L188.46,304.89L189.57,307.03L190.69,309.18L191.81,311.32L192.95,313.46L194.09,315.59L195.23,317.72L196.39,319.85L197.55,321.97L198.72,324.09L199.9,326.21L201.08,328.32L202.27,330.43L203.47,332.53L204.67,334.64L205.88,336.73L207.1,338.83L208.33,340.92L209.56,343.01L210.8,345.09L212.04,347.17L213.29,349.25L214.55,351.32L215.81,353.39L217.09,355.45L218.36,357.52L219.65,359.57L220.94,361.63L222.23,363.68L223.54,365.73L224.84,367.77L226.16,369.81L227.48,371.85L228.81,373.88L230.14,375.91L231.48,377.93L232.82,379.95L234.17,381.97L235.53,383.98L236.89,385.99L238.26,388L239.63,390L241.01,392L242.39,393.99L243.78,395.99L245.18,397.97L246.58,399.96L247.98,401.94L249.39,403.91L250.81,405.88L252.23,407.85L253.66,409.82L255.09,411.78L256.52,413.73L257.96,415.69L259.41,417.64L260.86,419.58L262.32,421.52L263.78,423.46L265.24,425.39L266.71,427.32L268.19,429.25L269.67,431.17L271.15,433.09L272.64,435L274.13,436.91L275.63,438.82L277.14,440.72L278.64,442.62L280.16,444.52L281.67,446.41L283.19,448.29L284.72,450.18L286.25,452.06L287.79,453.93L289.33,455.8L290.87,457.67L292.42,459.54L293.97,461.4L295.53,463.25L297.1,465.11L298.66,466.95L300.23,468.8L301.81,470.64L303.39,472.48L304.97,474.31L306.56,476.14L308.16,477.96L309.76,479.78L311.36,481.6L312.96,483.42L314.57,485.23L316.19,487.03L317.81,488.83L319.43,490.63L321.06,492.43L322.69,494.22L324.33,496L325.97,497.78L327.61,499.56L329.26,501.34L330.92,503.11L332.57,504.88L334.24,506.64L335.9,508.4L337.57,510.15L339.24,511.9L340.92,513.65L342.6,515.4L344.29,517.14L345.98,518.87L347.67,520.6L349.37,522.33L351.07,524.06L352.78,525.78L354.49,527.49L356.2,529.2L357.92,530.91L359.64,532.62L361.37,534.32L363.1,536.01L364.83,537.71L366.57,539.4L368.31,541.08L370.05,542.76L371.8,544.44L373.55,546.11L375.31,547.78L377.07,549.45L378.83,551.11L380.6,552.77L382.37,554.42L384.14,556.07L385.92,557.72L387.7,559.36L389.49,561L391.28,562.63L393.07,564.26L394.87,565.89L396.67,567.51L398.47,569.13L400.28,570.74L402.09,572.35L403.9,573.96L405.72,575.56L407.54,577.16L409.36,578.76L411.19,580.35L413.02,581.93L414.86,583.52L416.7,585.1L418.54,586.67L420.38,588.24L422.23,589.81L424.08,591.37L425.94,592.93L427.8,594.49L429.66,596.04L431.52,597.59L433.39,599.13L435.26,600.67L437.14,602.21L439.02,603.74L440.9,605.27L442.78,606.79L444.67,608.31L446.56,609.83L448.45,611.34L450.35,612.85L452.25,614.35L454.16,615.85L456.06,617.35L457.97,618.84L459.88,620.33L461.8,621.81L463.72,623.29L465.64,624.77L467.56,626.24L469.49,627.71L471.42,629.18L473.36,630.64L475.29,632.09L477.23,633.55L479.17,634.99L481.12,636.44L483.07,637.88L485.02,639.32L486.97,640.75L488.93,642.18L490.89,643.6L492.85,645.03L494.82,646.44L496.78,647.86L498.75,649.26L500.73,650.67L502.7,652.07L504.68,653.47L506.66,654.86L508.65,656.25L510.64,657.64L512.62,659.02L514.62,660.39L516.61,661.77L518.61,663.14L520.61,664.5L522.61,665.86L524.62,667.22L526.62,668.58L528.63,669.93L530.65,671.27L532.66,672.61L534.68,673.95L536.7,675.28L538.72,676.61L540.75,677.94L542.77,679.26L544.8,680.58L546.84,681.89L548.87,683.2L550.91,684.51L552.95,685.81L554.99,687.11L557.03,688.4L559.08,689.69L561.13,690.97L563.18,692.26L565.23,693.53L567.29,694.81L569.34,696.08L571.4,697.34L573.47,698.6L575.53,699.86L577.6,701.12L579.66,702.37L581.74,703.61L583.81,704.85L585.88,706.09L587.96,707.32L590.04,708.55L592.12,709.78L594.2,711L596.29,712.22L598.37,713.43L600.46,714.64L602.55,715.85L604.65,717.05L606.74,718.25L608.84,719.44L610.94,720.63L613.04,721.81L615.14,723L617.25,724.17L619.35,725.35L621.46,726.52L623.57,727.68L625.68,728.84L627.8,730L629.91,731.15L632.03,732.3L634.15,733.45L636.27,734.59L638.39,735.73L640.52,736.86L642.64,737.99L644.77,739.11L646.9,740.24L649.03,741.35M372.5,544.44L372.5,911.75C372.5,953.07 407.96,995.04 459.43,1001.83L490,1005.86L1055.5,1080.45M490.1,643.6L490.1,928.15C490.1,969.05 525.01,1010.48 577.4,1017.39L605,1021.03M649.8,643.68L649.8,949.2C649.8,990.84 685.59,1031.66 736.21,1038.34L760,1041.47M649.8,860L649.8,870.42C649.8,886.13 655.36,912.82 681.55,916.33L715,920.8L1055.5,966.36"/></g>
<path stroke="#000" stroke-width="3.7" fill="none" d="M119.1,1160.78V0M117.2,1.6H1057.3M1055.5,0V1141.18M99.8,1141.18H1057.3M99.8,24.11H119.1M99.8,71.09H119.1M99.8,145.54H119.1M99.8,192.52H119.1M99.8,239.5H119.1M99.8,301.59H119.1M99.8,348.57H119.1M99.8,395.55H119.1M99.8,470H119.1M99.8,516.98H119.1M99.8,579.07H119.1M99.8,626.05H119.1M99.8,673.03H119.1M99.8,735.12H119.1M99.8,782.1H119.1M99.8,829.08H119.1M99.8,891.17H119.1M99.8,938.15H119.1M99.8,985.13H119.1M99.8,1047.22H119.1M99.8,1094.2H119.1M278.98,1141.18V1160.78M372.39,1141.18V1160.78M438.66,1141.18V1160.78M490.07,1141.18V1160.78M532.07,1141.18V1160.78M567.58,1141.18V1160.78M598.34,1141.18V1160.78M625.48,1141.18V1160.78M649.75,1141.18V1160.78M743.16,1141.18V1160.78M809.43,1141.18V1160.78M902.84,1141.18V1160.78M969.11,1141.18V1160.78M1020.52,1141.18V1160.78"/>
<rect x="103.3" y="71.09" width="16" height="16" fill="#111"/>
<path d="M103.3,75.49L107.7,71.09M103.3,81.89L114.1,71.09M104.5,87.09L119.3,72.29M110.9,87.09L119.3,78.69M117.3,87.09L119.3,85.09" stroke="#fff" stroke-width="0.7" opacity="0.75"/>
<circle cx="103.3" cy="87.09" r="12.2" fill="#fff" stroke="#444" stroke-width="1.05"/>
<text x="104.1" y="94.29" font-family="Liberation Sans, Arial, sans-serif" font-weight="bold" font-size="20" text-anchor="middle">1</text>
<rect x="188.44" y="55.09" width="16" height="16" fill="#111"/>
<path d="M188.44,59.49L192.84,55.09M188.44,65.89L199.24,55.09M189.64,71.09L204.44,56.29M196.04,71.09L204.44,62.69M202.44,71.09L204.44,69.09" stroke="#fff" stroke-width="0.7" opacity="0.75"/>
<circle cx="204.44" cy="55.09" r="12.2" fill="#fff" stroke="#444" stroke-width="1.05"/>
<text x="205.24" y="62.29" font-family="Liberation Sans, Arial, sans-serif" font-weight="bold" font-size="20" text-anchor="middle">2</text>
<rect x="278.98" y="285.59" width="16" height="16" fill="#111"/>
<path d="M278.98,289.99L283.38,285.59M278.98,296.39L289.78,285.59M280.18,301.59L294.98,286.79M286.58,301.59L294.98,293.19M292.98,301.59L294.98,299.59" stroke="#fff" stroke-width="0.7" opacity="0.75"/>
<circle cx="294.98" cy="285.59" r="12.2" fill="#fff" stroke="#444" stroke-width="1.05"/>
<text x="295.78" y="292.79" font-family="Liberation Sans, Arial, sans-serif" font-weight="bold" font-size="20" text-anchor="middle">3</text>
<rect x="262.98" y="445" width="16" height="16" fill="#111"/>
<path d="M262.98,449.4L267.38,445M262.98,455.8L273.78,445M264.18,461L278.98,446.2M270.58,461L278.98,452.6M276.98,461L278.98,459" stroke="#fff" stroke-width="0.7" opacity="0.75"/>
<circle cx="262.98" cy="461" r="12.2" fill="#fff" stroke="#444" stroke-width="1.05"/>
<text x="263.78" y="468.2" font-family="Liberation Sans, Arial, sans-serif" font-weight="bold" font-size="20" text-anchor="middle">3</text>
<rect x="356.5" y="782.1" width="16" height="16" fill="#111"/>
<path d="M356.5,786.5L360.9,782.1M356.5,792.9L367.3,782.1M357.7,798.1L372.5,783.3M364.1,798.1L372.5,789.7M370.5,798.1L372.5,796.1" stroke="#fff" stroke-width="0.7" opacity="0.75"/>
<circle cx="356.5" cy="798.1" r="12.2" fill="#fff" stroke="#444" stroke-width="1.05"/>
<text x="357.3" y="805.3" font-family="Liberation Sans, Arial, sans-serif" font-weight="bold" font-size="20" text-anchor="middle">4</text>
<rect x="490.1" y="766.1" width="16" height="16" fill="#111"/>
<path d="M490.1,770.5L494.5,766.1M490.1,776.9L500.9,766.1M491.3,782.1L506.1,767.3M497.7,782.1L506.1,773.7M504.1,782.1L506.1,780.1" stroke="#fff" stroke-width="0.7" opacity="0.75"/>
<circle cx="506.1" cy="766.1" r="12.2" fill="#fff" stroke="#444" stroke-width="1.05"/>
<text x="506.9" y="773.3" font-family="Liberation Sans, Arial, sans-serif" font-weight="bold" font-size="20" text-anchor="middle">4</text>
<rect x="474.1" y="782.1" width="16" height="16" fill="#111"/>
<path d="M474.1,786.5L478.5,782.1M474.1,792.9L484.9,782.1M475.3,798.1L490.1,783.3M481.7,798.1L490.1,789.7M488.1,798.1L490.1,796.1" stroke="#fff" stroke-width="0.7" opacity="0.75"/>
<circle cx="474.1" cy="798.1" r="12.2" fill="#fff" stroke="#444" stroke-width="1.05"/>
<text x="474.9" y="805.3" font-family="Liberation Sans, Arial, sans-serif" font-weight="bold" font-size="20" text-anchor="middle">5</text>
<rect x="649.8" y="766.1" width="16" height="16" fill="#111"/>
<path d="M649.8,770.5L654.2,766.1M649.8,776.9L660.6,766.1M651,782.1L665.8,767.3M657.4,782.1L665.8,773.7M663.8,782.1L665.8,780.1" stroke="#fff" stroke-width="0.7" opacity="0.75"/>
<circle cx="665.8" cy="766.1" r="12.2" fill="#fff" stroke="#444" stroke-width="1.05"/>
<text x="666.6" y="773.3" font-family="Liberation Sans, Arial, sans-serif" font-weight="bold" font-size="20" text-anchor="middle">5</text>
<rect x="633.8" y="782.1" width="16" height="16" fill="#111"/>
<path d="M633.8,786.5L638.2,782.1M633.8,792.9L644.6,782.1M635,798.1L649.8,783.3M641.4,798.1L649.8,789.7M647.8,798.1L649.8,796.1" stroke="#fff" stroke-width="0.7" opacity="0.75"/>
<circle cx="633.8" cy="798.1" r="12.2" fill="#fff" stroke="#444" stroke-width="1.05"/>
<text x="634.6" y="805.3" font-family="Liberation Sans, Arial, sans-serif" font-weight="bold" font-size="20" text-anchor="middle">6</text>
<rect x="809.6" y="766.1" width="16" height="16" fill="#111"/>
<path d="M809.6,770.5L814,766.1M809.6,776.9L820.4,766.1M810.8,782.1L825.6,767.3M817.2,782.1L825.6,773.7M823.6,782.1L825.6,780.1" stroke="#fff" stroke-width="0.7" opacity="0.75"/>
<circle cx="825.6" cy="766.1" r="12.2" fill="#fff" stroke="#444" stroke-width="1.05"/>
<text x="826.4" y="773.3" font-family="Liberation Sans, Arial, sans-serif" font-weight="bold" font-size="20" text-anchor="middle">6</text>
<g font-family="Liberation Sans, Arial, sans-serif" font-weight="bold" font-size="19.5" fill="#000"><text x="85.3" y="31.41" text-anchor="end">7200</text><text x="85.3" y="78.39" text-anchor="end">3600</text><text x="85.3" y="152.84" text-anchor="end">1200</text><text x="85.3" y="199.82" text-anchor="end">600</text><text x="85.3" y="246.8" text-anchor="end">300</text><text x="85.3" y="308.89" text-anchor="end">120</text><text x="85.3" y="355.87" text-anchor="end">60</text><text x="85.3" y="402.85" text-anchor="end">30</text><text x="85.3" y="477.3" text-anchor="end">10</text><text x="85.3" y="524.28" text-anchor="end">5</text><text x="85.3" y="586.37" text-anchor="end">2</text><text x="85.3" y="633.35" text-anchor="end">1</text><text x="85.3" y="680.33" text-anchor="end">0.5</text><text x="85.3" y="742.42" text-anchor="end">0.2</text><text x="85.3" y="789.4" text-anchor="end">0.1</text><text x="85.3" y="836.38" text-anchor="end">0.05</text><text x="85.3" y="898.47" text-anchor="end">0.02</text><text x="85.3" y="945.45" text-anchor="end">0.01</text><text x="85.3" y="992.43" text-anchor="end">0.005</text><text x="85.3" y="1054.52" text-anchor="end">0.002</text><text x="85.3" y="1101.5" text-anchor="end">0.001</text><text x="85.3" y="1148.48" text-anchor="end">0.0005</text><text x="118.4" y="1195.7" text-anchor="middle">1</text><text x="278" y="1195.7" text-anchor="middle">2</text><text x="371.3" y="1195.7" text-anchor="middle">3</text><text x="436.7" y="1195.7" text-anchor="middle">4</text><text x="488.5" y="1195.7" text-anchor="middle">5</text><text x="530.6" y="1195.7" text-anchor="middle">6</text><text x="565.2" y="1195.7" text-anchor="middle">7</text><text x="596.8" y="1195.7" text-anchor="middle">8</text><text x="622.8" y="1195.7" text-anchor="middle">9</text><text x="649.6" y="1195.7" text-anchor="middle">10</text><text x="744.2" y="1195.7" text-anchor="middle">15</text><text x="809.7" y="1195.7" text-anchor="middle">20</text><text x="903.2" y="1195.7" text-anchor="middle">30</text><text x="969.4" y="1195.7" text-anchor="middle">40</text><text x="1020.7" y="1195.7" text-anchor="middle">50</text></g>
<text transform="translate(18.2,685.5) rotate(-90)" font-family="Liberation Sans, Arial, sans-serif" font-weight="bold" font-size="24" letter-spacing="-0.35" fill="#000">Tripping time [s]</text>
<g font-family="Liberation Sans, Arial, sans-serif" font-size="27" fill="#000"><text x="568.9" y="1269.7">I</text><text x="582.6" y="1269.7">/</text><text x="596.9" y="1269.7">I</text></g>
<text x="605.6" y="1277.9" font-family="Liberation Sans, Arial, sans-serif" font-weight="bold" font-size="13.5" fill="#000">n</text>
<text transform="translate(1070.6,1144.6) rotate(-90)" font-family="Liberation Sans, Arial, sans-serif" font-weight="bold" font-size="13" fill="#000">DG000777 Ver. 3 - 11/11</text>
<g font-family="Liberation Sans, Arial, sans-serif" font-weight="bold" font-size="20" letter-spacing="-0.45" fill="#000"><text x="843.3" y="75.7" text-anchor="middle" letter-spacing="-0.55">Tripping characteristic</text><text x="838.6" y="103.6" text-anchor="middle" letter-spacing="-0.1">acc. to UL 489</text><text x="842.2" y="347.3" text-anchor="middle" letter-spacing="-0.5">Instantaneous tripping</text><text x="843.6" y="374.2" text-anchor="middle" letter-spacing="0.04">acc. to IEC 60898-1</text></g>
<g font-family="Liberation Sans, Arial, sans-serif" font-weight="bold" font-size="14.5" letter-spacing="-0.25" fill="#000"><text x="748.2" y="144.3">conventional non-tripping current</text><text x="748.2" y="168.8" font-size="15.3">I</text><text x="752.6" y="173.8" font-size="9.5">nt</text><text x="769.7" y="168.8" font-size="15.3">=</text><text x="782.2" y="168.8" font-size="15.3">1.0</text><text x="807.9" y="168.8" font-size="15.3">I</text><text x="812.6" y="173.8" font-size="9.5">n</text><text x="832.5" y="168.8" font-size="15.3" letter-spacing="0.15">(T = 40 °C)</text><text x="748.2" y="207.4">conventional tripping current</text><text x="748.5" y="233.2" font-size="15.3">I</text><text x="752.3" y="238.2" font-size="9.5">t</text><text x="764.6" y="233.2" font-size="15.3">=</text><text x="777.8" y="233.2" font-size="15.3">1.35</text><text x="810.7" y="233.2" font-size="15.3">I</text><text x="816.2" y="238.2" font-size="9.5">n</text><text x="827.3" y="233.2" font-size="15.3">:</text><text x="839.4" y="233.2" font-size="15.3">t</text><text x="853.4" y="233.2" font-size="15.3">&lt;</text><text x="866.7" y="233.2" font-size="15.3">1</text><text x="879.1" y="233.2" font-size="15.3">h</text><text x="892.3" y="233.2" font-size="15.3" letter-spacing="0.15">(T = 25 °C)</text><text x="747.6" y="280.5" font-size="15.3">2.0</text><text x="773" y="280.5" font-size="15.3">I</text><text x="776.7" y="285.5" font-size="9.5">n</text><text x="787.8" y="280.5" font-size="15.3">:</text><text x="800.1" y="280.5" font-size="15.3">t = 12-120 s</text><text x="887" y="280.5" font-size="15.3" letter-spacing="0.15">(T = 25 °C)</text><text x="748.9" y="422.9">type B :</text><text x="813.4" y="422.9" font-size="15.3">3</text><text x="826.5" y="422.9" font-size="15.3">I</text><text x="832" y="427.9" font-size="9.5">n</text><text x="844.8" y="422.9" font-size="15.3">:</text><text x="852.9" y="422.9" font-size="15.3">t</text><text x="862.1" y="422.9" font-size="15.3">&gt;</text><text x="875.6" y="422.9" font-size="15.3">0.1</text><text x="901" y="422.9" font-size="15.3">s</text><text x="814" y="447" font-size="15.3">5</text><text x="826.5" y="447" font-size="15.3">I</text><text x="832" y="452" font-size="9.5">n</text><text x="844.8" y="447" font-size="15.3">:</text><text x="852.9" y="447" font-size="15.3">t</text><text x="862.1" y="447" font-size="15.3">&lt;</text><text x="875.6" y="447" font-size="15.3">0.1</text><text x="901" y="447" font-size="15.3">s</text><text x="748.9" y="481">type C :</text><text x="814.2" y="481" font-size="15.3">5</text><text x="826.4" y="481" font-size="15.3">I</text><text x="831.6" y="486" font-size="9.5">n</text><text x="844.8" y="481" font-size="15.3">:</text><text x="852.9" y="481" font-size="15.3">t</text><text x="862.1" y="481" font-size="15.3">&gt;</text><text x="875.6" y="481" font-size="15.3">0.1</text><text x="901" y="481" font-size="15.3">s</text><text x="806.6" y="504.6" font-size="15.3">10</text><text x="827.2" y="504.6" font-size="15.3">I</text><text x="832.3" y="509.6" font-size="9.5">n</text><text x="846.4" y="504.6" font-size="15.3">:</text><text x="854.8" y="504.6" font-size="15.3">t</text><text x="865.4" y="504.6" font-size="15.3">&lt;</text><text x="876.4" y="504.6" font-size="15.3">0.1</text><text x="902.6" y="504.6" font-size="15.3">s</text><text x="748.9" y="543.3">type D:</text><text x="806.6" y="543.3" font-size="15.3">10</text><text x="827.2" y="543.3" font-size="15.3">I</text><text x="832.3" y="548.3" font-size="9.5">n</text><text x="846.4" y="543.3" font-size="15.3">:</text><text x="854.8" y="543.3" font-size="15.3">t</text><text x="865.4" y="543.3" font-size="15.3">&gt;</text><text x="876.4" y="543.3" font-size="15.3">0.1</text><text x="902.6" y="543.3" font-size="15.3">s</text><text x="806.6" y="566.8" font-size="15.3">20</text><text x="827.2" y="566.8" font-size="15.3">I</text><text x="832.3" y="571.8" font-size="9.5">n</text><text x="846.4" y="566.8" font-size="15.3">:</text><text x="854.8" y="566.8" font-size="15.3">t</text><text x="865.4" y="566.8" font-size="15.3">&lt;</text><text x="876.4" y="566.8" font-size="15.3">0.1</text><text x="902.6" y="566.8" font-size="15.3">s</text></g>
<circle cx="712.2" cy="139.8" r="11.2" fill="#fff" stroke="#444" stroke-width="1.05"/>
<text x="712.6" y="145.6" font-family="Liberation Sans, Arial, sans-serif" font-weight="bold" font-size="16" text-anchor="middle">1</text>
<circle cx="712.2" cy="201.6" r="11.2" fill="#fff" stroke="#444" stroke-width="1.05"/>
<text x="712.6" y="207.4" font-family="Liberation Sans, Arial, sans-serif" font-weight="bold" font-size="16" text-anchor="middle">2</text>
<circle cx="712.2" cy="277.0" r="11.2" fill="#fff" stroke="#444" stroke-width="1.05"/>
<text x="712.6" y="282.8" font-family="Liberation Sans, Arial, sans-serif" font-weight="bold" font-size="16" text-anchor="middle">3</text>
<circle cx="712.2" cy="417.6" r="11.2" fill="#fff" stroke="#444" stroke-width="1.05"/>
<text x="712.6" y="423.4" font-family="Liberation Sans, Arial, sans-serif" font-weight="bold" font-size="16" text-anchor="middle">4</text>
<circle cx="712.2" cy="475.8" r="11.2" fill="#fff" stroke="#444" stroke-width="1.05"/>
<text x="712.6" y="481.6" font-family="Liberation Sans, Arial, sans-serif" font-weight="bold" font-size="16" text-anchor="middle">5</text>
<circle cx="712.2" cy="538.6" r="11.2" fill="#fff" stroke="#444" stroke-width="1.05"/>
<text x="712.6" y="544.4" font-family="Liberation Sans, Arial, sans-serif" font-weight="bold" font-size="16" text-anchor="middle">6</text>
<g font-family="Liberation Sans, Arial, sans-serif" font-size="39.5" fill="#000" stroke="#000" stroke-width="0.6"><text x="420.5" y="841.8">B</text><text x="558" y="842.8">C</text><text x="720" y="841.8">D</text></g>
</svg></body></html>
